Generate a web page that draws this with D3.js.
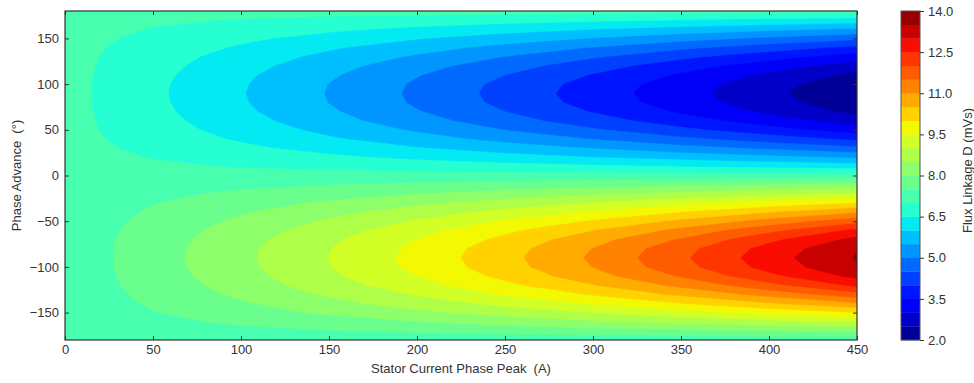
<!DOCTYPE html>
<html><head><meta charset="utf-8">
<script src="https://cdn.jsdelivr.net/npm/d3@7"></script>
<style>
body{margin:0;background:#fff}
text{font-family:"Liberation Sans",Arial,sans-serif;}
</style>
</head><body>
<svg id="chart" width="974" height="383"></svg>
<script>
// ---- data ----
const currents = [0, 50, 100, 150, 200, 250, 300, 350, 400, 450];               // A
const phases = [-180,-170,-160,-150,-140,-130,-120,-110,-100,-90,-80,-70,-60,-50,-40,-30,-20,-10,0,
                10,20,30,40,50,60,70,80,90,100,110,120,130,140,150,160,170,180]; // deg
// Flux linkage D (mVs): one row per phase, one column per current
const fluxD = [
  [7.17,7.17,7.17,7.17,7.17,7.17,7.17,7.17,7.17,7.17],     // -180
  [7.17,7.28,7.38,7.49,7.59,7.70,7.80,7.90,8.01,8.11],     // -170
  [7.17,7.38,7.59,7.79,7.99,8.21,8.42,8.63,8.85,9.06],     // -160
  [7.17,7.48,7.77,8.08,8.39,8.70,9.01,9.33,9.66,9.99],     // -150
  [7.17,7.56,7.94,8.34,8.74,9.15,9.56,9.99,10.45,10.92],   // -140
  [7.17,7.63,8.10,8.57,9.05,9.55,10.05,10.60,11.18,11.82], // -130
  [7.17,7.69,8.22,8.76,9.31,9.88,10.48,11.13,11.85,12.61], // -120
  [7.17,7.74,8.31,8.90,9.50,10.13,10.81,11.55,12.37,13.15],// -110
  [7.17,7.77,8.37,8.98,9.62,10.29,11.01,11.82,12.68,13.45],// -100
  [7.17,7.77,8.39,9.01,9.66,10.34,11.08,11.91,12.78,13.55],// -90
  [7.17,7.77,8.37,8.98,9.62,10.29,11.01,11.82,12.68,13.45],// -80
  [7.17,7.74,8.31,8.90,9.50,10.13,10.81,11.55,12.37,13.15],// -70
  [7.17,7.69,8.22,8.76,9.31,9.88,10.48,11.13,11.85,12.61], // -60
  [7.17,7.63,8.10,8.57,9.05,9.55,10.05,10.60,11.18,11.82], // -50
  [7.17,7.56,7.94,8.34,8.74,9.15,9.56,9.99,10.45,10.92],   // -40
  [7.17,7.48,7.77,8.08,8.39,8.70,9.01,9.33,9.66,9.99],     // -30
  [7.17,7.38,7.59,7.79,7.99,8.21,8.42,8.63,8.85,9.06],     // -20
  [7.17,7.28,7.38,7.49,7.59,7.70,7.80,7.90,8.01,8.11],     // -10
  [7.17,7.17,7.17,7.17,7.17,7.17,7.17,7.17,7.17,7.17],     // 0
  [7.17,7.07,6.97,6.87,6.78,6.68,6.58,6.48,6.38,6.28],     // 10
  [7.17,6.98,6.78,6.59,6.39,6.20,6.00,5.81,5.62,5.42],     // 20
  [7.17,6.89,6.60,6.32,6.03,5.75,5.47,5.18,4.90,4.61],     // 30
  [7.17,6.80,6.44,6.07,5.71,5.34,4.98,4.61,4.25,3.88],     // 40
  [7.17,6.73,6.30,5.86,5.43,4.99,4.56,4.12,3.69,3.25],     // 50
  [7.17,6.68,6.19,5.69,5.20,4.71,4.22,3.73,3.24,2.74],     // 60
  [7.17,6.64,6.10,5.57,5.03,4.50,3.97,3.43,2.90,2.37],     // 70
  [7.17,6.61,6.05,5.49,4.93,4.37,3.81,3.25,2.70,2.14],     // 80
  [7.17,6.60,6.03,5.47,4.90,4.33,3.76,3.19,2.63,2.06],     // 90
  [7.17,6.61,6.05,5.49,4.93,4.37,3.81,3.25,2.70,2.14],     // 100
  [7.17,6.64,6.10,5.57,5.03,4.50,3.97,3.43,2.90,2.37],     // 110
  [7.17,6.68,6.19,5.69,5.20,4.71,4.22,3.73,3.24,2.74],     // 120
  [7.17,6.73,6.30,5.86,5.43,4.99,4.56,4.12,3.69,3.25],     // 130
  [7.17,6.80,6.44,6.07,5.71,5.34,4.98,4.61,4.25,3.88],     // 140
  [7.17,6.89,6.60,6.32,6.03,5.75,5.47,5.18,4.90,4.61],     // 150
  [7.17,6.98,6.78,6.59,6.39,6.20,6.00,5.81,5.62,5.42],     // 160
  [7.17,7.07,6.97,6.87,6.78,6.68,6.58,6.48,6.38,6.28],     // 170
  [7.17,7.17,7.17,7.17,7.17,7.17,7.17,7.17,7.17,7.17]      // 180
];
const levels = [2.0,2.5,3.0,3.5,4.0,4.5,5.0,5.5,6.0,6.5,7.0,7.5,8.0,8.5,9.0,
                9.5,10.0,10.5,11.0,11.5,12.0,12.5,13.0,13.5,14.0];
const xTicks = [0,50,100,150,200,250,300,350,400,450];
const yTicks = [-150,-100,-50,0,50,100,150];
const cbTicks = [2.0,3.5,5.0,6.5,8.0,9.5,11.0,12.5,14.0];
const xTitle = "Stator Current Phase Peak  (A)";
const yTitle = "Phase Advance  (\u00B0)";
const cbTitle = "Flux Linkage D (mVs)";

// ---- jet colormap (matplotlib segment data) ----
const jr = d3.scaleLinear().domain([0,0.35,0.66,0.89,1]).range([0,0,1,1,0.5]).clamp(true);
const jg = d3.scaleLinear().domain([0,0.125,0.375,0.64,0.91,1]).range([0,0,1,1,0,0]).clamp(true);
const jb = d3.scaleLinear().domain([0,0.11,0.34,0.65,1]).range([0.5,1,1,0,0]).clamp(true);
const jet = t => d3.rgb(Math.round(jr(t)*255), Math.round(jg(t)*255), Math.round(jb(t)*255)).toString();
const vmin = levels[0], vmax = levels[levels.length-1];
const bandColor = lo => jet((lo + 0.25 - vmin) / (vmax - vmin));

const svg = d3.select("#chart");
const P = {l:65, r:857, t:11, b:340};
const x = d3.scaleLinear().domain([0,450]).range([P.l,P.r]);
const y = d3.scaleLinear().domain([-180,180]).range([P.b,P.t]);
const textColor = "#333";
const fs = 13;

svg.append("defs").append("clipPath").attr("id","plotclip")
  .append("rect").attr("x",P.l).attr("y",P.t).attr("width",P.r-P.l).attr("height",P.b-P.t);

// filled contours
const nx = currents.length, ny = phases.length;
const values = fluxD.flat();
const contours = d3.contours().size([nx, ny]).thresholds(levels.slice(0,-1))(values);
const ix = d3.scaleLinear().domain([0.5, nx-0.5]).range([currents[0], currents[nx-1]]);
const iy = d3.scaleLinear().domain([0.5, ny-0.5]).range([phases[0], phases[ny-1]]);
const tr = d3.geoTransform({point(px,py){ this.stream.point(x(ix(px)), y(iy(py))); }});
const path = d3.geoPath(tr);
svg.append("g").attr("clip-path","url(#plotclip)")
  .selectAll("path").data(contours).join("path")
  .attr("d", path)
  .attr("fill", d => bandColor(d.value))
  .attr("stroke", d => bandColor(d.value))
  .attr("stroke-width", 0.4);

// axes (inward ticks on all sides)
const styleAxis = g => {
  g.select(".domain").remove();
  g.selectAll(".tick line").attr("stroke","#333");
  g.selectAll(".tick text").attr("fill",textColor).style("font-size",fs+"px")
    .style("font-family",'"Liberation Sans",Arial,sans-serif');
};
svg.append("g").attr("transform",`translate(0,${P.b})`)
  .call(d3.axisBottom(x).tickValues(xTicks).tickSize(-4).tickPadding(5).tickFormat(d3.format("d")))
  .call(styleAxis);
svg.append("g").attr("transform",`translate(0,${P.t})`)
  .call(d3.axisTop(x).tickValues(xTicks).tickSize(-4).tickFormat(""))
  .call(styleAxis);
svg.append("g").attr("transform",`translate(${P.l},0)`)
  .call(d3.axisLeft(y).tickValues(yTicks).tickSize(-4).tickPadding(6).tickFormat(d3.format("d")))
  .call(styleAxis);
svg.append("g").attr("transform",`translate(${P.r},0)`)
  .call(d3.axisRight(y).tickValues(yTicks).tickSize(-4).tickFormat(""))
  .call(styleAxis);
svg.append("rect").attr("x",P.l).attr("y",P.t).attr("width",P.r-P.l).attr("height",P.b-P.t)
  .attr("fill","none").attr("stroke","#333").attr("stroke-width",1.2);

// titles
svg.append("text").attr("x",(P.l+P.r)/2).attr("y",373).attr("text-anchor","middle")
  .style("white-space","pre").style("font-size",fs+"px").attr("fill",textColor).text(xTitle);
svg.append("text").attr("transform",`translate(21,${(P.t+P.b)/2}) rotate(-90)`).attr("text-anchor","middle")
  .style("white-space","pre").style("font-size",fs+"px").attr("fill",textColor).text(yTitle);

// colorbar
const C = {l:901, r:920};
const cy = d3.scaleLinear().domain([vmin,vmax]).range([P.b,P.t]);
const bands = levels.slice(0,-1);
svg.append("g").selectAll("rect").data(bands).join("rect")
  .attr("x",C.l).attr("width",C.r-C.l)
  .attr("y",d => cy(d+0.5)).attr("height",d => cy(d)-cy(d+0.5)+0.3)
  .attr("fill",d => bandColor(d));
svg.append("rect").attr("x",C.l).attr("y",P.t).attr("width",C.r-C.l).attr("height",P.b-P.t)
  .attr("fill","none").attr("stroke","#555").attr("stroke-width",1);
svg.append("g").attr("transform",`translate(${C.r},0)`)
  .call(d3.axisRight(cy).tickValues(cbTicks).tickSize(4).tickPadding(4).tickFormat(d3.format(".1f")))
  .call(styleAxis);
svg.append("text").attr("transform",`translate(972,${(P.t+P.b)/2-5}) rotate(-90)`).attr("text-anchor","middle")
  .style("font-size",fs+"px").attr("fill",textColor).text(cbTitle);
</script>
</body></html>
